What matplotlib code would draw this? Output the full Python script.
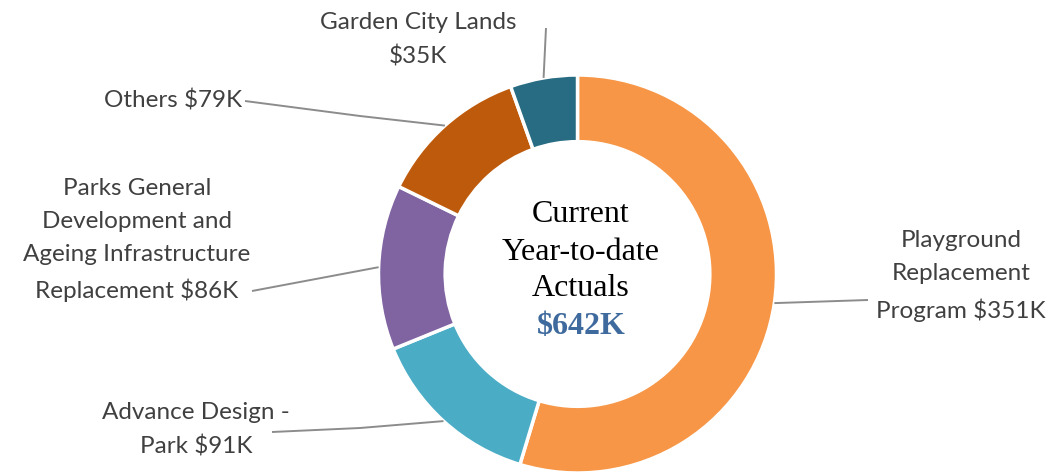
import numpy as np
import matplotlib
matplotlib.use("Agg")
import matplotlib.pyplot as plt

# data (clockwise from 12 o'clock)
categories = ["Playground\nReplacement\nProgram $351K",
              "Advance Design -\nPark $91K",
              "Parks General\nDevelopment and\nAgeing Infrastructure\nReplacement $86K",
              "Others $79K",
              "Garden City Lands\n$35K"]
values = [351, 91, 86, 79, 35]
colors = ["#F79646", "#4BACC6", "#8064A2", "#BE5A0C", "#276C82"]
total_label = "$642K"

W, H = 1060, 475
fig = plt.figure(figsize=(W / 100, H / 100), dpi=100)
ax = fig.add_axes([0, 0, 1, 1])

cx, cy, R = 577.5, H - 274, 199
wedges, _ = ax.pie(values, colors=colors, startangle=90, counterclock=False,
                   center=(cx, cy), radius=R,
                   wedgeprops=dict(width=R * 0.335, edgecolor="white", linewidth=2.5))
ax.set_xlim(0, W)
ax.set_ylim(0, H)
ax.set_aspect("equal")
ax.axis("off")

# label placement: (text x, text y in image px, ha, leader path points in image px)
label_pos = [
    (961, 276, "center", [(868, 300)]),
    (196, 430, "center", [(272, 432), (360, 428)]),
    (137, 240, "center", [(252, 291)]),
    (242, 100, "right", [(245, 101), (360, 116)]),
    (418, 40, "center", [(546, 28)]),
]

lab_font = dict(family="Lato", fontsize=17.5, color="#404040")
for w, lab, (tx, ty, ha, path) in zip(wedges, categories, label_pos):
    mid = np.deg2rad((w.theta1 + w.theta2) / 2)
    ex, ey = cx + R * np.cos(mid), cy + R * np.sin(mid)
    pts = [(px, H - py) for px, py in path] + [(ex, ey)]
    ax.plot([p[0] for p in pts], [p[1] for p in pts], color="#8c8c8c", lw=1.4,
            solid_capstyle="butt")
    ax.text(tx, H - ty, lab, ha=ha, va="center", linespacing=1.7, **lab_font)

# centre text
ctr = dict(family="Liberation Serif", fontsize=23, ha="center", va="center")
ax.text(581, H - 215, "Current", color="black", **ctr)
ax.text(581, H - 252, "Year-to-date", color="black", **ctr)
ax.text(581, H - 288, "Actuals", color="black", **ctr)
ax.text(581, H - 326, total_label, color="#3F6A9E", fontweight="bold", **ctr)

fig.savefig("out.png", dpi=100)
